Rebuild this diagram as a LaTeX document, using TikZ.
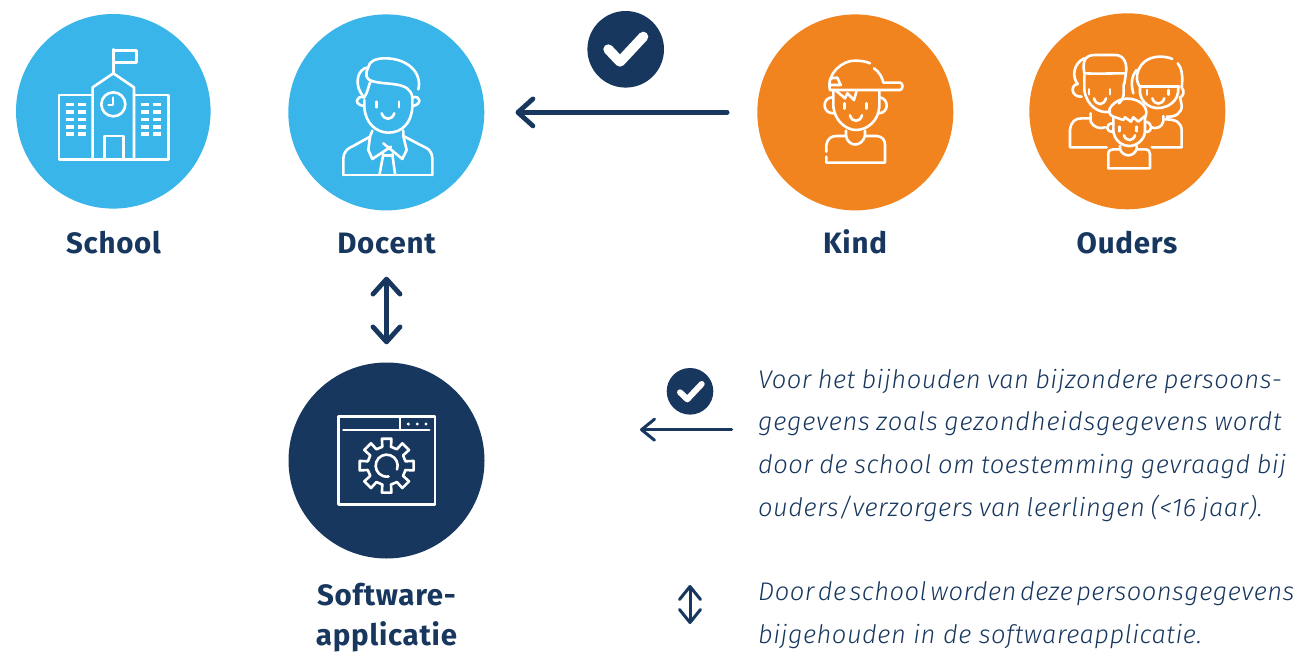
\documentclass[tikz,border=0pt]{standalone}
\usepackage{fontspec}
\setmainfont{Fira Sans}
\newfontfamily\lblfont[LetterSpace=2.5]{Fira Sans Bold}
\newfontfamily\txtfont[LetterSpace=2.0]{Fira Sans Light Italic}
\newfontfamily\txtwide[LetterSpace=3.0]{Fira Sans Light Italic}
\usetikzlibrary{arrows.meta}
\definecolor{navy}{HTML}{17375E}
\definecolor{sky}{HTML}{39B5E9}
\definecolor{amber}{HTML}{F28420}
\newcommand{\wsp}[2]{{\spaceskip=#1pt #2}}
\tikzset{
  disc/.style={circle,inner sep=0pt,minimum size=#1,draw=none},
  lbl/.style={font=\lblfont\fontsize{29.5}{39.5}\selectfont,text=navy,align=center,anchor=base,inner sep=0pt},
  para/.style={font=\txtfont\fontsize{25.5}{42.6}\selectfont,text=navy,align=left,anchor=base west,inner sep=0pt},
  ico/.style={draw=white,line width=2.6pt,line cap=round,line join=round,fill=none},
  bigarrow/.style={navy,line width=4.8pt,line cap=round},
  smallarrow/.style={navy,line width=3pt,line cap=round},
  bigtip/.tip={Straight Barb[length=15pt,width=27pt,line cap=round,line join=round]},
  smalltip/.tip={Straight Barb[length=13pt,width=21pt,line cap=round,line join=round]},
  checkbig/.style={white,line width=10pt,line cap=round,line join=round},
  checksmall/.style={white,line width=6pt,line cap=round,line join=round},
}
\begin{document}
\begin{tikzpicture}[x=1pt,y=-1pt]
\useasboundingbox (0,0) rectangle (1300,653);
% discs
\node[disc=194.6pt,fill=sky] (school) at (113.3,111.3) {};
\node[disc=196pt,fill=sky] (docent) at (386.3,112.4) {};
\node[disc=196pt,fill=amber] (kind) at (855.3,112.4) {};
\node[disc=196pt,fill=amber] (ouders) at (1127.3,111.3) {};
\node[disc=196pt,fill=navy] (soft) at (386.5,460.5) {};
% labels
\node[lbl] (lschool) at (113.5,253) {School};
\node[lbl] (ldocent) at (386.5,253) {Docent};
\node[lbl] (lkind) at (855,253) {Kind};
\node[lbl] (louders) at (1127,253) {Ouders};
\node[lbl] (lsoft) at (386.5,645) {Software-\\applicatie};
% school icon
\begin{scope}[shift={(10,10)},x=0.3333pt,y=-0.3333pt]
\draw[ico] (245,255)--(147,255)--(147,448)--(475,448)--(475,255)--(375,255);
\draw[ico] (248,448)--(248,232)--(310,190)--(372,232)--(372,448);
\draw[ico] (310,190)--(310,118);
\draw[ico] (310,122)--(380,122)--(380,158)--(310,158);
\draw[ico] (310,283) circle (36);
\draw[ico,line width=1.8pt] (310,262)--(310,285)--(295,285);
\draw[ico] (283,448)--(283,378)--(340,378)--(340,448);
\foreach \wx in {168,204,393,430}{
 \foreach \wy in {278,301,323,345,367}{
  \fill[white] (\wx,\wy) rectangle ++(24,11);
 }}
\end{scope}
% docent icon
\begin{scope}[shift={(285,10)},x=0.3333pt,y=-0.3333pt]
\draw[ico] (238,270)--(238,290) .. controls (240,340) and (275,368) .. (310,368) .. controls (350,368) and (380,340) .. (382,290)--(382,262);
\draw[ico] (238,262) .. controls (212,255) and (205,285) .. (238,288);
\draw[ico] (382,262) .. controls (408,255) and (412,285) .. (382,288);
\draw[ico] (400,238) .. controls (412,190) and (370,145) .. (300,145) .. controls (270,145) and (252,155) .. (250,172) .. controls (215,175) and (205,230) .. (238,262);
\draw[ico] (250,172) .. controls (238,195) and (245,208) .. (258,212) .. controls (300,228) and (375,210) .. (382,262);
\draw[ico] (258,212) .. controls (250,225) and (250,245) .. (238,262);
\draw[ico] (275,275)--(275,292);
\draw[ico] (342,275)--(342,292);
\draw[ico] (290,310) .. controls (298,332) and (320,332) .. (328,310);
\draw[ico] (175,495)--(442,495);
\draw[ico] (175,495)--(175,445) .. controls (178,420) and (190,415) .. (205,408)--(255,380)--(262,362);
\draw[ico] (442,495)--(442,445) .. controls (440,420) and (428,415) .. (412,408)--(355,378)--(355,362);
\draw[ico] (255,380)--(250,420)--(262,447)--(318,410);
\draw[ico] (355,378)--(365,420)--(352,447)--(295,400);
\draw[ico] (295,432)--(284,492);
\draw[ico] (322,432)--(330,492);
\draw[ico] (295,436)--(322,436);
\end{scope}
% kind icon
\begin{scope}[shift={(750,10)},x=0.3333pt,y=-0.3333pt]
\draw[ico] (240,240) .. controls (228,190) and (280,150) .. (315,152) .. controls (335,152) and (350,155) .. (360,160);
\draw[ico] (372,175) .. controls (388,185) and (398,205) .. (400,218);
\draw[ico] (240,240)--(450,240) .. controls (460,240) and (460,218) .. (450,218)--(400,218);
\draw[ico] (242,205)--(262,203)--(272,225)--(238,225);
\draw[ico] (250,240)--(250,290) .. controls (255,335) and (290,360) .. (318,360) .. controls (350,360) and (385,335) .. (388,290)--(388,240);
\draw[ico] (258,242)--(285,265)--(292,250)--(312,270)--(320,242);
\draw[ico] (248,262) .. controls (215,262) and (215,312) .. (252,310);
\draw[ico] (388,262) .. controls (418,265) and (418,310) .. (385,310);
\draw[ico] (284,280)--(284,296);
\draw[ico] (350,280)--(350,296);
\draw[ico] (300,316) .. controls (306,338) and (330,338) .. (336,316);
\draw[ico] (229,425)--(229,405) .. controls (232,385) and (245,378) .. (260,378)--(288,378);
\draw[ico] (288,362)--(288,378) .. controls (295,412) and (335,412) .. (345,378)--(345,362);
\draw[ico] (345,378)--(380,378) .. controls (398,380) and (405,390) .. (405,405)--(405,458)--(229,458)--(229,440);
\end{scope}
% ouders icon
\begin{scope}[shift={(1025,10)},x=0.3333pt,y=-0.3333pt]
% father
\draw[ico] (178,195)--(178,240) .. controls (185,290) and (225,312) .. (255,305);
\draw[ico] (296,222)--(296,255) .. controls (294,265) and (290,272) .. (282,280);
\draw[ico] (178,190) .. controls (172,155) and (178,135) .. (210,135)--(270,135) .. controls (300,135) and (308,165) .. (302,195)--(298,222);
\draw[ico] (178,190) .. controls (215,192) and (260,190) .. (298,190);
\draw[ico] (178,145) .. controls (145,160) and (140,200) .. (158,222);
\draw[ico] (158,222) .. controls (135,225) and (138,262) .. (170,260);
\draw[ico] (192,238)--(192,253);
\draw[ico] (255,238)--(255,253);
\draw[ico] (207,265) .. controls (213,288) and (237,288) .. (243,265);
% mother
\draw[ico] (345,232)--(345,250) .. controls (352,290) and (400,310) .. (440,280) .. controls (455,268) and (460,255) .. (460,232);
\draw[ico] (345,230)--(462,230);
\draw[ico] (345,230) .. controls (325,210) and (335,145) .. (400,140) .. controls (420,140) and (432,142) .. (442,147);
\draw[ico] (335,180) .. controls (318,200) and (318,225) .. (325,250);
\draw[ico] (458,160) .. controls (472,175) and (474,205) .. (470,232);
\draw[ico] (470,232) .. controls (482,245) and (472,262) .. (465,262)--(470,285) .. controls (472,310) and (450,322) .. (425,320);
\draw[ico] (366,240)--(366,254);
\draw[ico] (430,240)--(430,254);
\draw[ico] (382,265) .. controls (388,286) and (412,286) .. (418,265);
% bodies
\draw[ico] (245,412)--(135,412)--(135,360) .. controls (138,335) and (150,325) .. (170,325)--(197,325);
\draw[ico] (197,310)--(197,335) .. controls (205,352) and (225,358) .. (240,352);
\draw[ico] (380,412)--(470,412)--(470,360) .. controls (468,338) and (455,328) .. (420,328);
\draw[ico] (415,318)--(415,335) .. controls (410,352) and (395,358) .. (378,352);
% child
\draw[ico] (265,320)--(265,365) .. controls (270,395) and (295,408) .. (312,408) .. controls (335,408) and (358,390) .. (360,365)--(360,320);
\draw[ico] (265,320) .. controls (240,310) and (255,280) .. (290,268) .. controls (330,258) and (375,285) .. (362,320);
\draw[ico] (265,320)--(295,330)--(300,322)--(318,335)--(325,322)--(340,335)--(360,318);
\draw[ico] (265,340) .. controls (240,340) and (240,367) .. (265,365);
\draw[ico] (360,335) .. controls (385,338) and (385,368) .. (360,366);
\draw[ico] (284,350)--(284,364);
\draw[ico] (335,350)--(335,364);
\draw[ico] (297,376) .. controls (303,395) and (324,395) .. (330,376);
\draw[ico] (250,475)--(250,432) .. controls (250,422) and (256,418) .. (265,418)--(285,418);
\draw[ico] (285,408)--(285,418) .. controls (295,442) and (325,442) .. (335,418)--(335,408);
\draw[ico] (335,418)--(360,418) .. controls (370,418) and (375,424) .. (375,432)--(375,475)--(250,475);
\end{scope}
% software icon
\begin{scope}[shift={(320,400)},x=0.3333pt,y=-0.3333pt]
\draw[ico] (55,50) rectangle (345,313);
\draw[ico] (70,90)--(328,90);
\draw[ico] (240,50)--(240,90);
\foreach \dx in {265,292,318}{\fill[white] (\dx,72) circle (5);}
\begin{scope}[shift={(200,197)},y=0.3333pt]
\foreach \a in {90,135,...,405}{
 \draw[ico] (\a-13:58)--(\a-10:82)--(\a+10:82)--(\a+13:58)--(\a+32:58);
}
\draw[ico] (-20:33) arc (-20:280:33);
\end{scope}
\end{scope}
% check badges
\node[disc=76.6pt,fill=navy] (chk1) at (625.7,49.3) {};
\draw[checkbig] (608.3,49.3)--(620,61.7)--(643.3,36.7);
\node[disc=46.6pt,fill=navy] (chk2) at (690,391.3) {};
\draw[checksmall] (680,392.3)--(687.3,399.3)--(701.7,384);
% connectors
\draw[bigarrow,-{bigtip},shorten <=30pt,shorten >=31pt] (kind.west)--(docent.east);
\draw[bigarrow,{bigtip}-{bigtip},shorten <=23pt,shorten >=18pt] (ldocent.south)--(soft.north);
% legend
\coordinate (a1) at (731.7,429.7);
\coordinate (a2) at (640,429.7);
\coordinate (b1) at (690,585);
\coordinate (b2) at (690,624);
\draw[smallarrow,-{smalltip}] (a1)--(a2);
\draw[smallarrow,{smalltip}-{smalltip}] (b1)--(b2);
\node[para] (p1) at (758,516) {\wsp{6.3}{Voor het bijhouden van bijzondere persoons-}\\\wsp{6.5}{\txtwide\fontsize{25.5}{42.6}\selectfont gegevens zoals gezondheidsgegevens wordt}\\\wsp{6.5}{door de school om toestemming gevraagd bij}\\\wsp{5.7}{ouders/verzorgers van leerlingen (<16 jaar).}};
\node[para] (p2) at (758,643) {\wsp{3.5}{Door de school worden deze persoonsgegevens}\\\wsp{7.5}{bijgehouden in de softwareapplicatie.}};
\end{tikzpicture}
\end{document}
